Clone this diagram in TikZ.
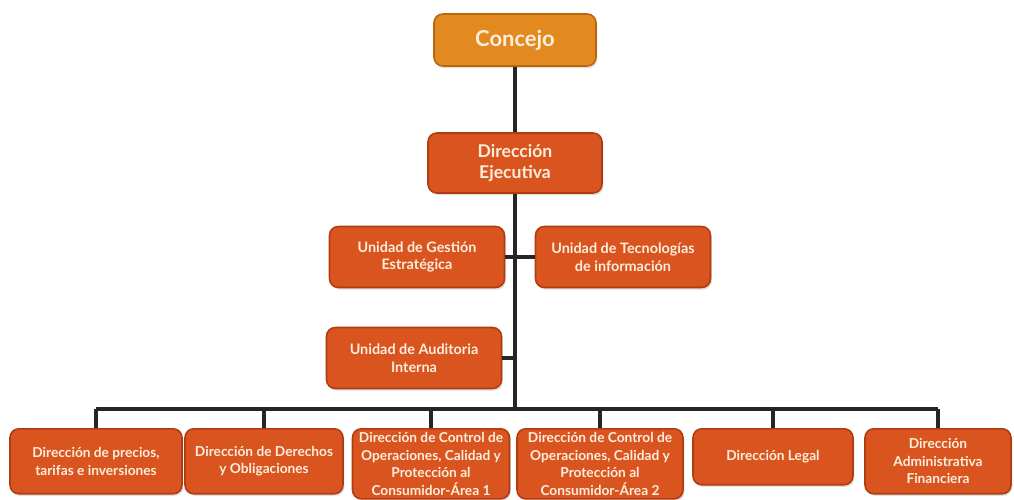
\documentclass[tikz,border=0pt]{standalone}
\usepackage{fontspec}
\setsansfont{Lato}
\usetikzlibrary{shadows}

\definecolor{concejo}{HTML}{E2891F}
\definecolor{concejoline}{HTML}{B9660F}
\definecolor{unidad}{HTML}{DA5420}
\definecolor{unidadline}{HTML}{B03C12}
\definecolor{letra}{HTML}{FCEEDC}

\tikzset{
  box/.style={rectangle, rounded corners=5pt, draw=unidadline, line width=0.9pt,
    fill=unidad, text=letra, align=center, inner sep=2pt,
    drop shadow={opacity=0.25, shadow xshift=0.8pt, shadow yshift=-1.2pt}},
  topbox/.style={box, fill=concejo, draw=concejoline, font=\sffamily\bfseries\fontsize{12.5}{14}\selectfont,
    minimum width=3.24cm, minimum height=1.04cm},
  midbox/.style={box, font=\sffamily\bfseries\fontsize{10}{11.5}\selectfont,
    minimum width=3.48cm, minimum height=1.2cm},
  unitbox/.style={box, font=\sffamily\bfseries\fontsize{8.2}{10}\selectfont,
    minimum width=3.5cm, minimum height=1.22cm},
  lowbox/.style={box, anchor=north, font=\sffamily\bfseries\fontsize{7.8}{10}\selectfont,
    minimum height=1.3cm},
  link/.style={line width=2.2pt, black!85}
}

\begin{document}
\begin{tikzpicture}[x=0.02cm,y=-0.02cm]
  \useasboundingbox (0,0) rectangle (1014,500);

  \node[topbox] (concejo) at (515,40) {Concejo};
  \node[midbox] (ejecutiva) at (515,163) {Dirección\\Ejecutiva};

  \node[unitbox] (gestion) at (417,257) {Unidad de Gestión\\Estratégica};
  \node[unitbox] (tecno) at (623,257) {Unidad de Tecnologías\\de información};
  \node[unitbox] (auditoria) at (414,358) {Unidad de Auditoria\\Interna};

  \node[lowbox, minimum width=3.44cm] (precios) at (96,428)
     {Dirección de precios,\\tarifas e inversiones};
  \node[lowbox, minimum width=3.16cm] (derechos) at (264,428)
     {Dirección de Derechos\\y Obligaciones};
  \node[lowbox, minimum width=3.14cm] (area1) at (431,428)
     {Dirección de Control de\\Operaciones, Calidad y\\Protección al\\Consumidor-Área 1};
  \node[lowbox, minimum width=3.32cm] (area2) at (600,428)
     {Dirección de Control de\\Operaciones, Calidad y\\Protección al\\Consumidor-Área 2};
  \node[lowbox, minimum width=3.2cm, minimum height=1.12cm] (legal) at (773,428)
     {Dirección Legal};
  \node[lowbox, minimum width=2.92cm] (financiera) at (938,428)
     {Dirección\\Administrativa\\Financiera};

  \coordinate (bus) at (515,409);

  % tronco principal
  \draw[link] (concejo.south) -- (ejecutiva.north);
  \draw[link] (ejecutiva.south) -- (bus);
  \draw[link] (gestion.east) -- (tecno.west);
  \draw[link] (auditoria.east) -- (auditoria.east -| bus);

  % barra de direcciones
  \draw[link] (bus -| precios.north) -- (bus -| financiera.north);
  \foreach \n in {precios,derechos,area1,area2,legal,financiera}
    \draw[link] (bus -| \n.north) -- (\n.north);
\end{tikzpicture}
\end{document}
